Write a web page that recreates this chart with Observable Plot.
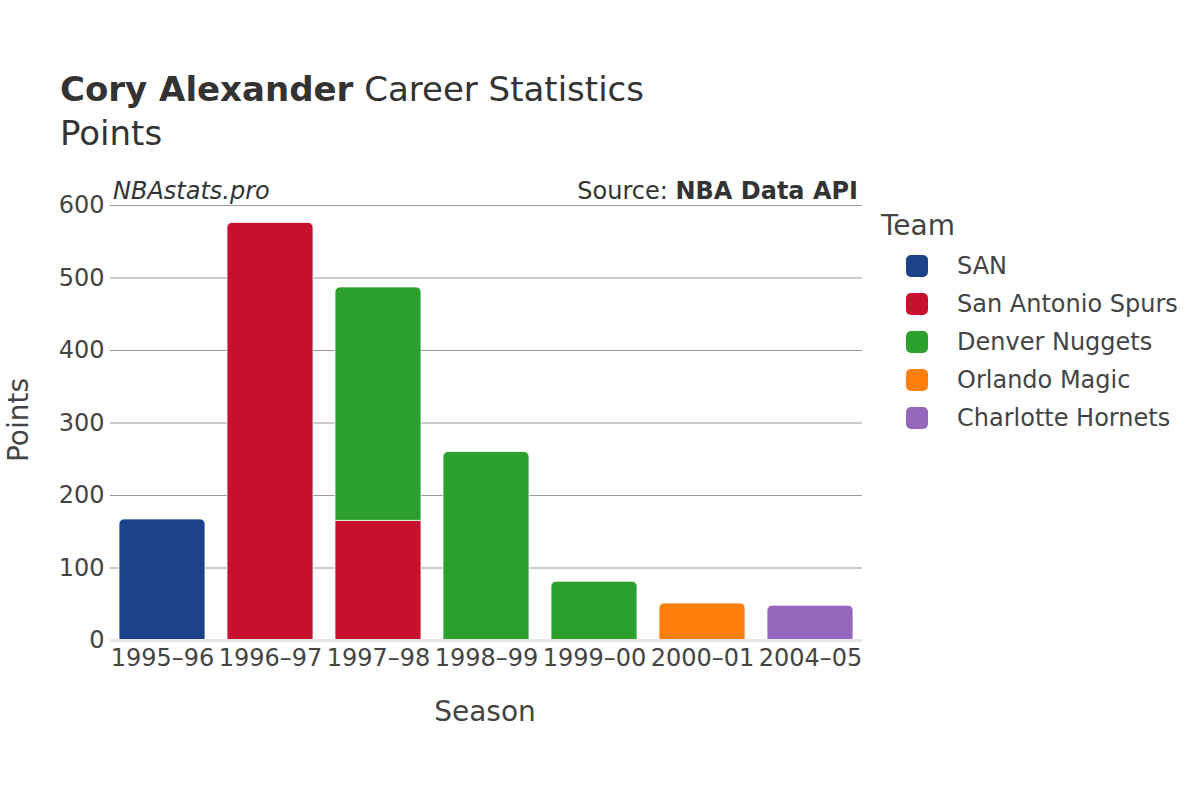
<!DOCTYPE html>
<html>
<head>
<meta charset="utf-8">
<script src="https://cdn.jsdelivr.net/npm/d3@7"></script>
<script src="https://cdn.jsdelivr.net/npm/@observablehq/plot@0.6"></script>
<style>
  html, body { margin: 0; padding: 0; background: #fff; }
  body { width: 1200px; height: 800px; position: relative; font-family: "DejaVu Sans", sans-serif; color: #444; overflow: hidden; }
  .abs { position: absolute; white-space: nowrap; }
  #chart { position: absolute; left: 0; top: 0; }
  .title { left: 60px; top: 69px; font-size: 34px; color: #333; }
  .subtitle { left: 60px; top: 113px; font-size: 34px; color: #333; }
  .brand { left: 113px; top: 177px; font-size: 24px; font-style: italic; color: #333; }
  .source { right: 342px; top: 177px; font-size: 24px; color: #333; }
  .ytitle { left: 18px; top: 420px; font-size: 28px; color: #444; transform: translate(-50%, -50%) rotate(-90deg); }
  .xtitle { left: 485px; top: 711px; font-size: 28px; color: #444; transform: translate(-50%, -50%); }
  .legtitle { left: 881px; top: 209px; font-size: 28px; color: #444; }
  .legitem { left: 906px; font-size: 24px; color: #444; display: flex; align-items: center; }
  .sw { width: 22px; height: 22px; border-radius: 5px; margin-right: 29px; }
</style>
</head>
<body>
<div id="chart"></div>
<script>
// ---- data ----
const seasons = ["1995–96","1996–97","1997–98","1997–98","1998–99","1999–00","2000–01","2004–05"];
const teams = ["SAN","San Antonio Spurs","San Antonio Spurs","Denver Nuggets","Denver Nuggets","Denver Nuggets","Orlando Magic","Charlotte Hornets"];
const points = [167, 576, 165, 322, 260, 81, 51, 48];
const seasonOrder = ["1995–96","1996–97","1997–98","1998–99","1999–00","2000–01","2004–05"];
const teamNames = ["SAN","San Antonio Spurs","Denver Nuggets","Orlando Magic","Charlotte Hornets"];
const teamColors = ["#1d428a","#c8102e","#2ca02c","#ff7f0e","#9467bd"];
const yTicks = [0, 100, 200, 300, 400, 500, 600];

// build stacked table
const cum = {};
const rows = seasons.map((s, i) => {
  const base = cum[s] || 0;
  cum[s] = base + points[i];
  return { season: s, team: teams[i], y1: base, y2: base + points[i] };
});
rows.forEach(r => { r.top = r.y2 === cum[r.season]; });
const topRows = rows.filter(r => r.top);
const lowRows = rows.filter(r => !r.top);

const plot = Plot.plot({
  width: 1200,
  height: 800,
  marginTop: 205,
  marginBottom: 160,
  marginLeft: 110,
  marginRight: 338,
  style: { fontFamily: "DejaVu Sans, sans-serif", fontSize: "24px", color: "#444", background: "transparent" },
  x: { domain: seasonOrder, paddingInner: 0.2, paddingOuter: 0.08, label: null, tickSize: 0, tickPadding: 8 },
  y: { domain: [0, 600], ticks: yTicks, label: null, tickSize: 0, tickPadding: 6 },
  color: { domain: teamNames, range: teamColors },
  marks: [
    Plot.gridY(yTicks, { stroke: "#999", strokeOpacity: 1, strokeWidth: 1 }),
    Plot.barY(lowRows, { x: "season", y1: "y1", y2: "y2", fill: "team", stroke: "white", strokeWidth: 0.8 }),
    Plot.barY(topRows, { x: "season", y1: "y1", y2: "y2", fill: "team", stroke: "white", strokeWidth: 0.8, ry1: 5, rx: 5 }),
    Plot.ruleY([0], { stroke: "#e6e6e6", strokeWidth: 3 })
  ]
});
document.getElementById("chart").appendChild(plot);

// overlays
const add = (cls, html, style) => {
  const d = document.createElement("div");
  d.className = "abs " + cls;
  d.innerHTML = html;
  if (style) Object.assign(d.style, style);
  document.body.appendChild(d);
  return d;
};
add("title", "<b>Cory Alexander</b> Career Statistics");
add("subtitle", "Points");
add("brand", "NBAstats.pro");
add("source", "Source: <b>NBA Data API</b>");
add("ytitle", "Points");
add("xtitle", "Season");
add("legtitle", "Team");
teamNames.forEach((t, i) => {
  add("legitem", `<span class="sw" style="background:${teamColors[i]}"></span><span>${t}</span>`, { top: (252 + i * 38) + "px" });
});
</script>
</body>
</html>
